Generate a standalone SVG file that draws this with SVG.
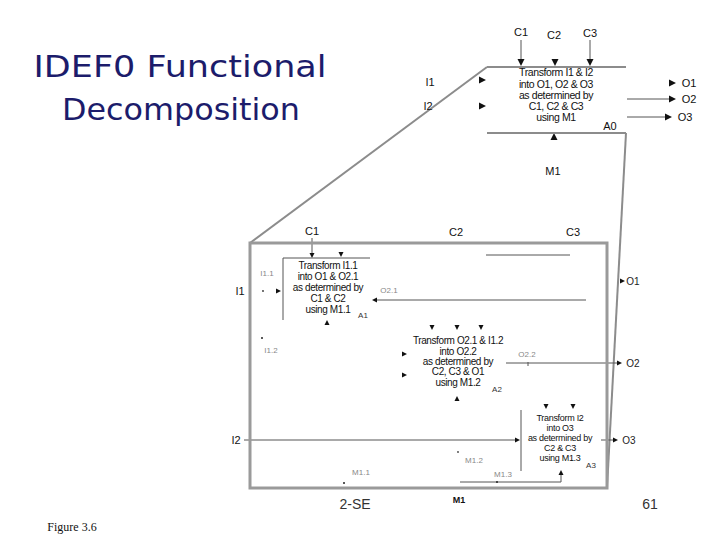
<svg xmlns="http://www.w3.org/2000/svg" xmlns:xlink="http://www.w3.org/1999/xlink" width="720" height="540" viewBox="0 0 720 540">
<style>
.frame{fill:none;stroke:#8c8c8c;stroke-width:2}
.frame3{fill:none;stroke:#9a9a9a;stroke-width:3}
.ln{fill:none;stroke:#555;stroke-width:1}
.t{font-family:"Liberation Sans",Arial,sans-serif;fill:#111;text-anchor:middle}
.big{font-size:10.5px;letter-spacing:-0.4px}
.mid{font-size:10px;letter-spacing:-0.4px}
.mid3{font-size:9px;letter-spacing:-0.3px}
.lab{font-size:11px}
.olab{font-size:10px;fill:#222}
.sm{font-size:8px;fill:#333}
.faint{font-size:8px;fill:#888}
.title{font-family:"DejaVu Sans",sans-serif;font-size:31px;fill:#1c1c6b;text-anchor:middle}
.ah{fill:#111}
</style>
<defs>
<polygon id="r" class="ah" points="0,0 -7,-3.5 -7,3.5"/>
<polygon id="d" class="ah" points="0,0 -3.5,-7 3.5,-7"/>
<polygon id="u" class="ah" points="0,0 -3.5,7 3.5,7"/>
<polygon id="rs" class="ah" points="0,0 -5,-2.5 -5,2.5"/>
<polygon id="ls" class="ah" points="0,0 5,-2.5 5,2.5"/>
<polygon id="ds" class="ah" points="0,0 -2.5,-5 2.5,-5"/>
<polygon id="us" class="ah" points="0,0 -2.5,5 2.5,5"/>
</defs>
<rect width="720" height="540" fill="#fff"/>

<g id="title">
<text class="title" x="180" y="77" textLength="293" lengthAdjust="spacingAndGlyphs">IDEF0 Functional</text>
<text class="title" x="181" y="120" textLength="238" lengthAdjust="spacingAndGlyphs">Decomposition</text>
</g>

<g id="connectors">
<!-- zoom lines -->
<line class="frame" x1="487" y1="67" x2="250" y2="243"/>
<line class="frame" x1="626" y1="133" x2="607" y2="488"/>
<!-- A0 connectors -->
<line class="ln" x1="521" y1="40" x2="521" y2="60"/>
<use href="#d" x="521" y="66"/>
<use href="#d" x="555" y="66"/>
<line class="ln" x1="590" y1="40" x2="590" y2="60"/>
<use href="#d" x="590" y="66"/>
<use href="#r" x="486" y="80"/>
<use href="#r" x="486" y="106"/>
<use href="#u" x="554" y="133"/>
<use href="#r" x="676" y="83"/>
<line class="ln" x1="627" y1="99" x2="670" y2="99"/>
<use href="#r" x="676" y="99"/>
<line class="ln" x1="627" y1="117" x2="666" y2="117"/>
<use href="#r" x="672" y="117"/>
<!-- decomposition connectors -->
<line class="ln" x1="312" y1="238" x2="312" y2="253"/>
<use href="#ds" x="312" y="258"/>
<use href="#ds" x="341" y="257"/>
<line class="ln" x1="486" y1="255" x2="570" y2="255" stroke="#777"/>
<circle cx="263" cy="291" r="0.9" fill="#333"/>
<use href="#rs" x="281" y="291"/>
<use href="#us" x="327" y="320"/>
<line class="ln" x1="376" y1="300" x2="586" y2="300"/>
<use href="#ls" x="372" y="300"/>
<use href="#rs" x="625" y="281"/>
<circle cx="262" cy="338" r="1" fill="#222"/>
<use href="#ds" x="432" y="330"/>
<use href="#ds" x="457" y="330"/>
<use href="#ds" x="481" y="330"/>
<use href="#rs" x="407" y="354"/>
<use href="#rs" x="407" y="375"/>
<use href="#us" x="457" y="396"/>
<line class="ln" x1="506" y1="363" x2="617" y2="363"/>
<use href="#rs" x="622" y="363"/>
<line class="ln" x1="528" y1="362" x2="528" y2="366"/>
<line class="ln" x1="244" y1="440" x2="515" y2="440"/>
<use href="#rs" x="520" y="440"/>
<use href="#ds" x="546" y="409"/>
<use href="#ds" x="573" y="409"/>
<line class="ln" x1="601" y1="440" x2="613" y2="440"/>
<use href="#rs" x="618" y="440"/>
<polyline class="ln" points="460,482 561,482 561,474"/>
<use href="#us" x="561" y="470"/>
<circle cx="497" cy="482" r="1" fill="#222"/>
<circle cx="458" cy="452" r="0.9" fill="#444"/>
<circle cx="344" cy="483" r="1" fill="#222"/>
</g>

<g id="A0">
<line class="frame" x1="487" y1="67" x2="626" y2="67"/>
<line class="frame" x1="487" y1="133" x2="626" y2="133"/>
<text class="t lab" x="521" y="36">C1</text>
<text class="t lab" x="554" y="39">C2</text>
<text class="t lab" x="590" y="37">C3</text>
<text class="t lab" x="430" y="86">I1</text>
<text class="t lab" x="428" y="110">I2</text>
<text class="t big" x="556" y="76">Transform I1 &amp; I2</text>
<text class="t big" x="556" y="88">into O1, O2 &amp; O3</text>
<text class="t big" x="556" y="99">as determined by</text>
<text class="t big" x="556" y="110">C1, C2 &amp; C3</text>
<text class="t big" x="556" y="121">using M1</text>
<text class="t lab" x="610" y="130">A0</text>
<text class="t lab" x="553" y="175">M1</text>
<text class="t lab" x="689" y="87">O1</text>
<text class="t lab" x="689" y="103">O2</text>
<text class="t lab" x="685" y="121">O3</text>
</g>

<g id="decomposition">
<rect class="frame3" x="250" y="243" width="357" height="245"/>
<text class="t lab" x="312" y="235">C1</text>
<text class="t lab" x="456" y="236">C2</text>
<text class="t lab" x="573" y="236">C3</text>
<text class="t lab" x="240" y="295">I1</text>
<text class="t lab" x="236" y="444">I2</text>
<text class="t olab" x="633" y="285">O1</text>
<text class="t olab" x="633" y="367">O2</text>
<text class="t olab" x="629" y="444">O3</text>
<text class="t faint" x="267" y="276">I1.1</text>
<text class="t faint" x="389" y="293">O2.1</text>
<text class="t faint" x="271" y="353">I1.2</text>
<text class="t faint" x="527" y="357">O2.2</text>
<text class="t faint" x="474" y="463">M1.2</text>
<text class="t faint" x="503" y="477">M1.3</text>
<text class="t faint" x="361" y="475">M1.1</text>
<text class="t lab" x="459" y="503" style="font-size:9px;font-weight:bold">M1</text>
</g>

<g id="A1">
<polyline class="ln" points="283,320 283,258 370,258"/>
<text class="t mid" x="328" y="269">Transform I1.1</text>
<text class="t mid" x="328" y="280">into O1 &amp; O2.1</text>
<text class="t mid" x="328" y="291">as determined by</text>
<text class="t mid" x="328" y="302">C1 &amp; C2</text>
<text class="t mid" x="328" y="313">using M1.1</text>
<text class="t sm" x="363" y="318">A1</text>
</g>

<g id="A2">
<text class="t mid" x="458" y="344">Transform O2.1 &amp; I1.2</text>
<text class="t mid" x="458" y="355">into O2.2</text>
<text class="t mid" x="458" y="365">as determined by</text>
<text class="t mid" x="458" y="375">C2, C3 &amp; O1</text>
<text class="t mid" x="458" y="386">using M1.2</text>
<text class="t sm" x="497" y="392">A2</text>
</g>

<g id="A3">
<line class="ln" x1="521" y1="410" x2="521" y2="471"/>
<text class="t mid3" x="560" y="421">Transform I2</text>
<text class="t mid3" x="560" y="431">into O3</text>
<text class="t mid3" x="560" y="441">as determined by</text>
<text class="t mid3" x="560" y="451">C2 &amp; C3</text>
<text class="t mid3" x="560" y="461">using M1.3</text>
<text class="t sm" x="591" y="468">A3</text>
</g>

<g id="footer">
<text x="355" y="509" style="font-family:'Liberation Sans',Arial,sans-serif;font-size:14px;fill:#333;text-anchor:middle">2-SE</text>
<text x="650" y="509" style="font-family:'Liberation Sans',Arial,sans-serif;font-size:14px;fill:#333;text-anchor:middle">61</text>
<text x="72" y="531" style="font-family:'Liberation Serif','Times New Roman',serif;font-size:12px;fill:#111;text-anchor:middle">Figure 3.6</text>
</g>
</svg>
